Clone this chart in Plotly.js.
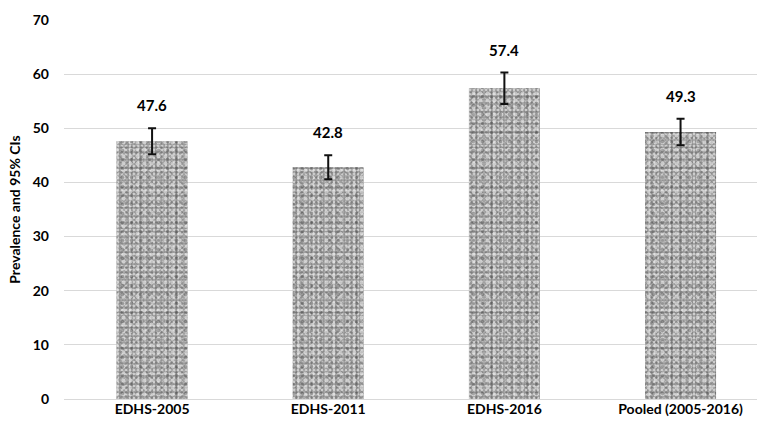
<!DOCTYPE html>
<html>
<head>
<meta charset="utf-8">
<script src="https://cdn.plot.ly/plotly-3.0.1.min.js"></script>
<style>html,body{margin:0;padding:0;background:#fff;}#chart{width:757px;height:427px;}</style>
</head>
<body>
<div id="chart"></div>
<script>
const categories = ["EDHS-2005", "EDHS-2011", "EDHS-2016", "Pooled (2005-2016)"];
const prevalence = [47.6, 42.8, 57.4, 49.3];
const ciHalfWidth = [2.4, 2.2, 2.9, 2.45];
const valueLabels = ["47.6", "42.8", "57.4", "49.3"];
const yTicks = [0, 10, 20, 30, 40, 50, 60, 70];

const xIdx = categories.map((c, i) => i);
const barW = 0.403;
const font = 'Lato, "Liberation Sans", sans-serif';

function layer(bg, fg, size, solidity, withErr) {
  const t = {
    type: 'bar', x: xIdx, y: prevalence, width: barW,
    marker: {
      color: bg === null ? 'rgba(0,0,0,0)' : bg,
      line: {width: 0},
      pattern: {shape: '.', fillmode: 'replace', fgcolor: fg,
                bgcolor: bg === null ? 'rgba(0,0,0,0)' : bg, size: size, solidity: solidity}
    },
    hoverinfo: 'skip', showlegend: false
  };
  if (withErr) {
    t.error_y = {type: 'data', array: ciHalfWidth, visible: true, color: '#111', thickness: 2, width: 4};
  }
  return t;
}

const data = [
  layer('#adadad', '#8c8c8c', 3, 0.45, false),
  layer(null, 'rgba(220,220,220,0.75)', 4, 0.3, false),
  layer(null, 'rgba(95,95,95,0.55)', 5, 0.2, false),
  layer(null, 'rgba(235,235,235,0.6)', 7, 0.25, false),
  layer(null, 'rgba(60,60,60,0.35)', 9, 0.12, true)
];

const annotations = categories.map((c, i) => ({
  x: i, y: prevalence[i] + ciHalfWidth[i], xref: 'x', yref: 'y',
  text: valueLabels[i], showarrow: false, yanchor: 'bottom', yshift: 12,
  font: {family: font, size: 15, color: '#000', weight: 'bold'}
}));

const layout = {
  width: 757, height: 427,
  margin: {l: 64, r: 0, t: 20, b: 28},
  paper_bgcolor: '#fff', plot_bgcolor: '#fff',
  barmode: 'overlay',
  xaxis: {
    range: [-0.5, 3.434], tickvals: xIdx, ticktext: categories,
    showgrid: false, zeroline: false, showline: false, ticks: '',
    tickfont: {family: font, size: 14, color: '#000', weight: 'bold'}
  },
  yaxis: {
    range: [0, 70], tickvals: yTicks, showgrid: true, gridcolor: '#d9d9d9', gridwidth: 1,
    zeroline: true, zerolinecolor: '#d9d9d9', zerolinewidth: 1,
    showline: false, ticks: '', ticklabelstandoff: 14,
    tickfont: {family: font, size: 14, color: '#000', weight: 'bold'},
    title: {text: 'Prevalence and 95% CIs', standoff: 8,
            font: {family: font, size: 14, color: '#000', weight: 'bold'}}
  },
  annotations: annotations
};

Plotly.newPlot('chart', data, layout, {displayModeBar: false, staticPlot: true});
</script>
</body>
</html>
